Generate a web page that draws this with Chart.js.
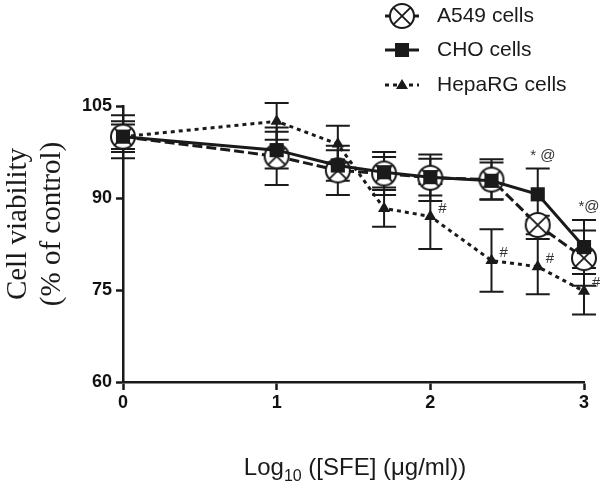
<!DOCTYPE html>
<html><head><meta charset="utf-8">
<script src="https://cdn.jsdelivr.net/npm/chart.js@4/dist/chart.umd.min.js"></script>
<style>html,body{margin:0;padding:0;background:#fff}#wrap{width:600px;height:485px;position:relative}</style>
</head><body><div id="wrap"><canvas id="c" width="600" height="485"></canvas></div>
<script>
// ---- data ----
const doses = [0, 1, 1.398, 1.699, 2, 2.398, 2.699, 3];   // log10 concentration
const seriesNames = ['A549 cells', 'CHO cells', 'HepaRG cells'];
const a549 = [100, 96.8, 94.5, 94.0, 93.3, 93.0, 85.6, 80.2];
const a549Err = [3.5, 4.7, 4.0, 3.5, 3.8, 3.3, 1.5, 4.5];
const cho = [100, 97.8, 95.3, 94.2, 93.4, 92.8, 90.6, 82.0];
const choErr = [2.5, 3.0, 2.5, 2.5, 3.0, 3.0, 4.2, 4.4];
const hepa = [100, 102.5, 98.8, 88.3, 87.0, 79.8, 78.8, 74.8];
const hepaErr = [2.0, 3.0, 3.0, 3.0, 5.3, 5.1, 4.5, 3.8];
const choSig = ['', '', '', '', '', '', '* @', '*@'];
const hepaSig = ['', '', '', '', '#', '#', '#', '#'];
const yTicks = [60, 75, 90, 105];
const xTicks = [0, 1, 2, 3];
const yTitle = ['Cell viability', '(% of control)'];
const xTitleParts = ['Log', '10', ' ([SFE] (\u03bcg/ml))'];

const INK = '#1a1a1a';

// circle-with-X marker
function makeCircleX(r) {
  const s = Math.ceil(r * 2 + 4);
  const cv = document.createElement('canvas');
  cv.width = s; cv.height = s;
  const g = cv.getContext('2d');
  const c = s / 2;
  g.beginPath(); g.arc(c, c, r, 0, Math.PI * 2);
  g.fillStyle = '#fff'; g.fill();
  g.lineWidth = 2; g.strokeStyle = INK; g.stroke();
  const d = r * Math.SQRT1_2;
  g.beginPath();
  g.moveTo(c - d, c - d); g.lineTo(c + d, c + d);
  g.moveTo(c + d, c - d); g.lineTo(c - d, c + d);
  g.lineWidth = 1.8; g.stroke();
  return cv;
}
const circX = makeCircleX(12);

const toPts = (vals) => doses.map((d, i) => ({ x: d, y: vals[i] }));

const errs = [a549Err, choErr, hepaErr];

const errorBars = {
  id: 'errorBars',
  beforeDatasetsDraw(chart) {
    const { ctx, scales: { x, y } } = chart;
    ctx.save();
    ctx.strokeStyle = INK;
    ctx.lineWidth = 2;
    chart.data.datasets.forEach((ds, di) => {
      const e = errs[di];
      ds.data.forEach((p, i) => {
        const px = x.getPixelForValue(p.x);
        const top = y.getPixelForValue(p.y + e[i]);
        const bot = y.getPixelForValue(p.y - e[i]);
        ctx.beginPath();
        ctx.moveTo(px, top); ctx.lineTo(px, bot);
        ctx.moveTo(px - 12, top); ctx.lineTo(px + 12, top);
        ctx.moveTo(px - 12, bot); ctx.lineTo(px + 12, bot);
        ctx.stroke();
      });
    });
    ctx.restore();
  }
};

const extras = {
  id: 'extras',
  afterDraw(chart) {
    const { ctx, scales: { x, y } } = chart;
    ctx.save();
    // significance labels
    ctx.fillStyle = '#333';
    ctx.font = '15px "Liberation Sans", Arial, sans-serif';
    ctx.textAlign = 'center';
    ctx.textBaseline = 'middle';
    choSig.forEach((s, i) => {
      if (!s) return;
      const px = x.getPixelForValue(doses[i]);
      const py = y.getPixelForValue(cho[i] + choErr[i]);
      ctx.fillText(s, px + 5, py - 13);
    });
    ctx.textAlign = 'left';
    hepaSig.forEach((s, i) => {
      if (!s) return;
      const px = x.getPixelForValue(doses[i]);
      const py = y.getPixelForValue(hepa[i]);
      ctx.fillText(s, px + 8, py - 8);
    });

    // y title
    ctx.fillStyle = INK;
    ctx.font = '29px "Liberation Serif", "Times New Roman", serif';
    ctx.textAlign = 'center';
    ctx.textBaseline = 'alphabetic';
    const cy = 224;
    [[26, yTitle[0]], [60, yTitle[1]]].forEach(([bx, t]) => {
      ctx.save();
      ctx.translate(bx, cy);
      ctx.rotate(-Math.PI / 2);
      ctx.fillText(t, 0, 0);
      ctx.restore();
    });

    // x title with subscript
    const big = '24px "Liberation Sans", Arial, sans-serif';
    const small = '16px "Liberation Sans", Arial, sans-serif';
    ctx.textAlign = 'left';
    ctx.textBaseline = 'alphabetic';
    ctx.font = big; const w0 = ctx.measureText(xTitleParts[0]).width;
    const w2 = ctx.measureText(xTitleParts[2]).width;
    ctx.font = small; const w1 = ctx.measureText(xTitleParts[1]).width;
    let tx = 355 - (w0 + w1 + w2) / 2;
    const base = 475;
    ctx.font = big; ctx.fillText(xTitleParts[0], tx, base); tx += w0;
    ctx.font = small; ctx.fillText(xTitleParts[1], tx, base + 6); tx += w1;
    ctx.font = big; ctx.fillText(xTitleParts[2], tx, base);

    // legend
    const rows = [
      { y: 16, dash: [9, 4], marker: 'circX' },
      { y: 50, dash: [], marker: 'rect' },
      { y: 85, dash: [4, 4], marker: 'tri' }
    ];
    ctx.font = '21px "Liberation Sans", Arial, sans-serif';
    ctx.textBaseline = 'middle';
    rows.forEach((r, i) => {
      ctx.strokeStyle = INK; ctx.lineWidth = 3;
      ctx.setLineDash(r.dash);
      ctx.beginPath(); ctx.moveTo(385, r.y); ctx.lineTo(419, r.y); ctx.stroke();
      ctx.setLineDash([]);
      ctx.fillStyle = INK;
      if (r.marker === 'circX') {
        ctx.drawImage(circX, 402 - circX.width / 2, r.y - circX.height / 2);
      } else if (r.marker === 'rect') {
        ctx.fillRect(395, r.y - 7, 14, 14);
      } else {
        ctx.beginPath();
        ctx.moveTo(402, r.y - 6); ctx.lineTo(408, r.y + 4); ctx.lineTo(396, r.y + 4);
        ctx.closePath(); ctx.fill();
      }
      ctx.fillStyle = INK;
      ctx.textAlign = 'left';
      ctx.fillText(seriesNames[i], 437, r.y);
    });
    ctx.restore();
  }
};

const tickFont = { family: '"Liberation Sans", Arial, sans-serif', size: 18, weight: 'bold' };

new Chart(document.getElementById('c'), {
  type: 'line',
  data: {
    datasets: [
      {
        label: seriesNames[0], data: toPts(a549), order: 2,
        borderColor: INK, borderWidth: 3, borderDash: [10, 4],
        pointStyle: circX, pointRadius: 12, backgroundColor: '#fff', clip: false
      },
      {
        label: seriesNames[1], data: toPts(cho), order: 1,
        borderColor: INK, borderWidth: 3,
        pointStyle: 'rect', pointRadius: 10, pointBackgroundColor: INK, pointBorderColor: INK, pointBorderWidth: 0, clip: false
      },
      {
        label: seriesNames[2], data: toPts(hepa), order: 0,
        borderColor: INK, borderWidth: 3, borderDash: [4, 4],
        pointStyle: 'triangle', pointRadius: 7, pointBackgroundColor: INK, pointBorderColor: INK, pointBorderWidth: 0, clip: false
      }
    ]
  },
  options: {
    responsive: false,
    animation: false,
    devicePixelRatio: 1,
    layout: { padding: { top: 106, right: 16, left: 0, bottom: 0 } },
    plugins: { legend: { display: false }, tooltip: { enabled: false } },
    scales: {
      x: {
        type: 'linear', min: 0, max: 3,
        afterBuildTicks: (s) => { s.ticks = xTicks.map(v => ({ value: v })); },
        afterFit: (s) => { s.height = 103; },
        border: { display: true, color: INK, width: 2.5 },
        grid: { display: true, drawOnChartArea: false, drawTicks: true, tickLength: 8, tickWidth: 2.5, tickColor: INK },
        ticks: { color: '#111', font: tickFont, padding: 2, maxRotation: 0 }
      },
      y: {
        type: 'linear', min: 60, max: 105,
        afterBuildTicks: (s) => { s.ticks = yTicks.map(v => ({ value: v })); },
        afterFit: (s) => { s.width = 123; },
        border: { display: true, color: INK, width: 2.5 },
        grid: { display: true, drawOnChartArea: false, drawTicks: true, tickLength: 7, tickWidth: 2.5, tickColor: INK },
        ticks: { color: '#111', font: tickFont, padding: 4 }
      }
    }
  },
  plugins: [errorBars, extras]
});
</script>
</body></html>
